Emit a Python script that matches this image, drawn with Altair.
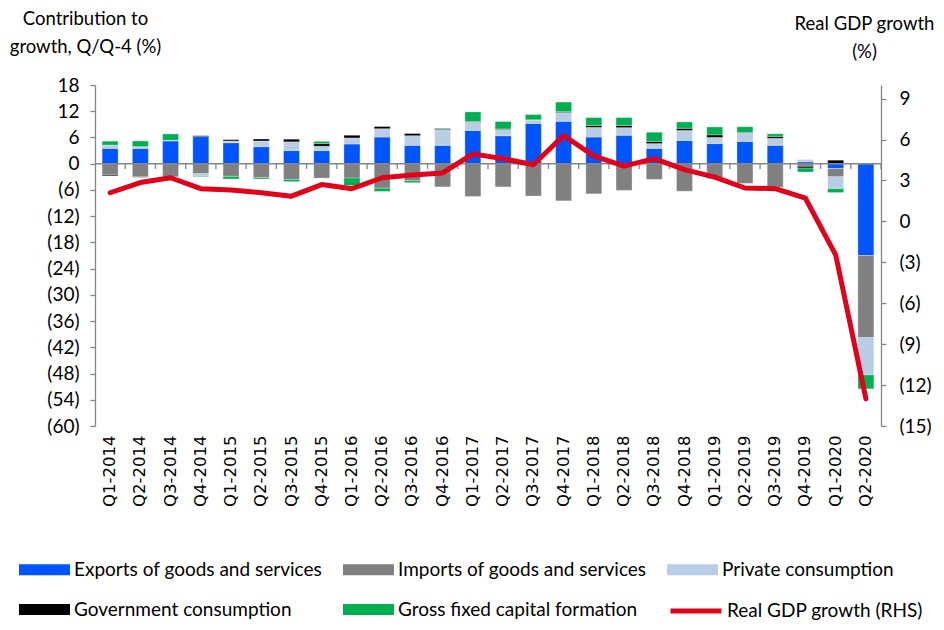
import altair as alt
import pandas as pd

quarters = ["Q1-2014", "Q2-2014", "Q3-2014", "Q4-2014", "Q1-2015", "Q2-2015", "Q3-2015", "Q4-2015",
            "Q1-2016", "Q2-2016", "Q3-2016", "Q4-2016", "Q1-2017", "Q2-2017", "Q3-2017", "Q4-2017",
            "Q1-2018", "Q2-2018", "Q3-2018", "Q4-2018", "Q1-2019", "Q2-2019", "Q3-2019", "Q4-2019",
            "Q1-2020", "Q2-2020"]

exports = [3.5, 3.5, 5.2, 6.2, 4.8, 3.9, 3.0, 3.0, 4.5, 6.1, 4.2, 4.2, 7.6, 6.4, 9.2, 9.7,
           6.1, 6.5, 3.5, 5.3, 4.6, 5.1, 4.2, 0.45, -1.1, -21.0]
imports_ = [-2.6, -3.0, -3.0, -2.3, -2.9, -3.2, -3.6, -3.3, -3.3, -5.6, -3.9, -5.3, -7.5, -5.3, -7.4, -8.5,
            -6.9, -6.1, -3.6, -6.3, -3.4, -4.5, -5.4, -0.6, -1.9, -18.8]
private = [0.75, 0.4, 0.15, -0.45, 0.4, 1.3, 2.0, 1.0, 1.4, 1.9, 2.2, 3.6, 1.9, 1.4, 0.8, 2.0,
           2.2, 1.75, 1.1, 2.3, 1.4, 1.9, 1.6, 0.5, -2.7, -8.5]
government = [-0.2, -0.1, 0.0, 0.2, 0.3, 0.45, 0.6, 0.6, 0.6, 0.5, 0.5, 0.2, 0.15, 0.15, 0.05, 0.2,
              0.45, 0.5, 0.5, 0.5, 0.6, 0.15, 0.45, -0.4, 0.8, 0.0]
gfcf = [0.9, 1.3, 1.45, -0.2, -0.6, -0.3, -0.5, 0.5, -1.7, -0.75, -0.45, 0.15, 2.2, 1.7, 1.2, 2.2,
        1.8, 1.8, 2.1, 1.45, 1.8, 1.3, 0.6, -0.9, -0.9, -3.2]
gdp = [2.1, 2.85, 3.2, 2.4, 2.3, 2.1, 1.85, 2.7, 2.4, 3.2, 3.4, 3.55, 4.95, 4.6, 4.15, 6.3,
       4.8, 4.05, 4.6, 3.8, 3.25, 2.45, 2.4, 1.7, -2.45, -13.0]

series_names = ["Exports of goods and services", "Imports of goods and services", "Private consumption",
                "Government consumption", "Gross fixed capital formation"]
series_colors = ["#0055FF", "#808080", "#B9CDE5", "#000000", "#00B050"]
line_name = "Real GDP growth (RHS)"
line_color = "#E2001A"
left_ticks = list(range(-60, 19, 6))
right_ticks = list(range(-15, 10, 3))

rows = []
for i, vals in enumerate([exports, imports_, private, government, gfcf]):
    for q, v in zip(quarters, vals):
        rows.append({"quarter": q, "series": series_names[i], "order": i, "value": v})
bars_df = pd.DataFrame(rows)
line_df = pd.DataFrame({"quarter": quarters, "gdp": gdp, "name": line_name})
ticks_df = pd.DataFrame({"quarter": quarters})

FONT = "Lato"
AXC = "#868686"
neg_expr = "datum.value < 0 ? '(' + format(-datum.value, 'd') + ')' : format(datum.value, 'd')"

x_scale = alt.Scale(domain=quarters, paddingInner=0, paddingOuter=0)
left_scale = alt.Scale(domain=[-60, 18], nice=False, zero=False)
right_scale = alt.Scale(domain=[-15, 10], nice=False, zero=False)

x_axis = alt.Axis(labelAngle=-90, labelFont="DejaVu Sans", labelFontSize=16.5, labelColor="#000",
                  domain=False, ticks=False, labelPadding=9, title=None, labelOverlap=False)

left_axis = alt.Axis(values=left_ticks, labelExpr=neg_expr, title=["Contribution to", "growth, Q/Q-4 (%)"],
                     titleAngle=0, titleAlign="center", titleBaseline="top", titleX=-10, titleY=-76,
                     titleFont=FONT, titleFontSize=18.5, titleFontWeight="normal", titleLineHeight=28,
                     titleColor="#000", labelFont=FONT, labelFontSize=19, labelColor="#000", grid=False,
                     labelOverlap=False, labelFlush=False,
                     domainColor=AXC, domainWidth=1.3, tickColor=AXC, tickWidth=1.3, tickSize=5, labelPadding=11)

right_axis = alt.Axis(orient="right", values=right_ticks, labelExpr=neg_expr, title=["Real GDP growth", "(%)"],
                      titleAngle=0, titleAlign="center", titleBaseline="top", titleX=-17, titleY=-71,
                      titleFont=FONT, titleFontSize=18.5, titleFontWeight="normal", titleLineHeight=28,
                      titleColor="#000", labelFont=FONT, labelFontSize=19, labelColor="#000", grid=False,
                      labelOverlap=False, labelFlush=False,
                      domainColor=AXC, domainWidth=1.3, tickColor=AXC, tickWidth=1.3, tickSize=5, labelPadding=13)

bars = alt.Chart(bars_df).mark_bar(width=16, stroke="white", strokeWidth=0.5, strokeOpacity=0.6).encode(
    x=alt.X("quarter:N", scale=x_scale, sort=quarters, axis=x_axis),
    y=alt.Y("value:Q", stack="zero", scale=left_scale, axis=left_axis),
    fill=alt.Fill("series:N", scale=alt.Scale(domain=series_names, range=series_colors),
                  legend=alt.Legend(orient="none", legendX=-80, legendY=475, direction="horizontal",
                                    columns=3, gridAlign="all", title=None, padding=0,
                                    symbolType="M-1,-1H8.27V1H-1Z", symbolSize=121,
                                    symbolStrokeWidth=0, labelOffset=40, labelFont=FONT, labelFontSize=19,
                                    labelColor="#000", rowPadding=20, columnPadding=16, labelLimit=400)),
    order=alt.Order("order:Q", sort="ascending"),
)

zero = alt.Chart(pd.DataFrame({"z": [0]})).mark_rule(color=AXC, strokeWidth=1.5).encode(
    y=alt.Y("z:Q", scale=left_scale, axis=left_axis),
)

ticks = alt.Chart(ticks_df).mark_rule(color=AXC, strokeWidth=1.3).encode(
    x=alt.X("quarter:N", scale=x_scale, sort=quarters, axis=x_axis, bandPosition=1),
    y=alt.YDatum(0, scale=left_scale, axis=left_axis),
    y2=alt.Y2Datum(-1.2),
)

line = alt.Chart(line_df).mark_line(strokeWidth=5, strokeCap="round", strokeJoin="round").encode(
    x=alt.X("quarter:N", scale=x_scale, sort=quarters, axis=x_axis),
    y=alt.Y("gdp:Q", scale=right_scale, axis=right_axis),
    stroke=alt.Stroke("name:N", scale=alt.Scale(domain=[line_name], range=[line_color]),
                      legend=alt.Legend(orient="none", legendX=573, legendY=498, title=None, padding=0,
                                        symbolType="stroke", symbolSize=2601, symbolStrokeWidth=5,
                                        labelOffset=3, labelFont=FONT, labelFontSize=19,
                                        labelColor="#000", labelLimit=400)),
)

left = alt.layer(bars, zero, ticks)
chart = alt.layer(left, line).resolve_scale(y="independent").properties(
    width=786, height=341,
    autosize=alt.AutoSizeParams(type="none"),
    padding={"left": 87, "top": 77, "right": 55, "bottom": 196},
).configure_view(stroke=None)

chart.save("out.html", embed_options={"renderer": "svg", "actions": False})
